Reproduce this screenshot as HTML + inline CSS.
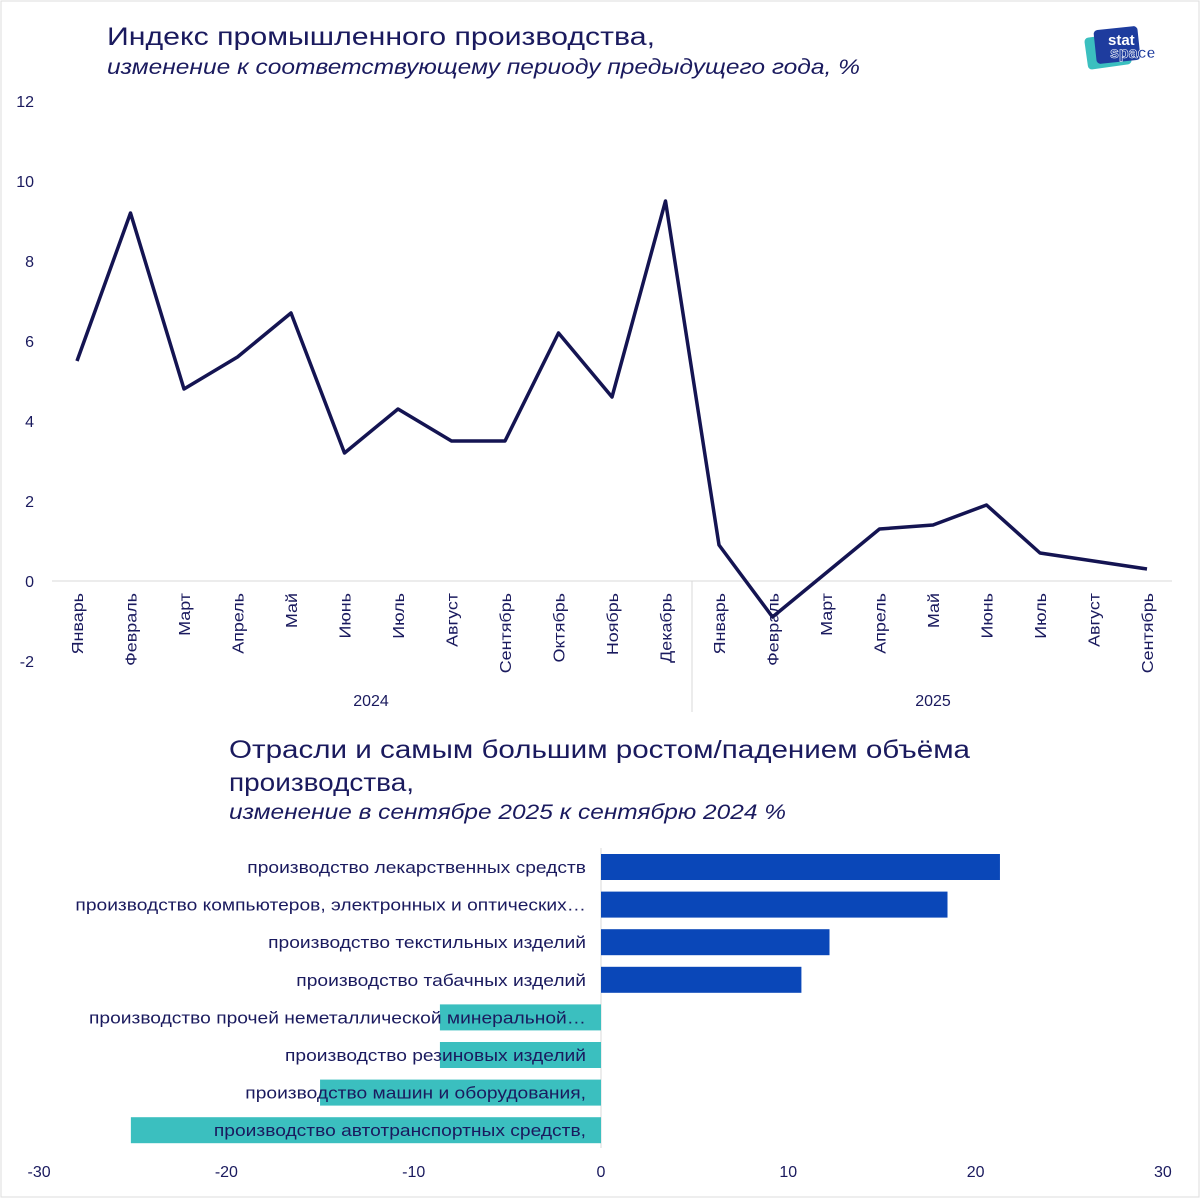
<!DOCTYPE html>
<html><head><meta charset="utf-8">
<style>
body{margin:0;background:#fff;font-family:"Liberation Sans","DejaVu Sans",sans-serif;}
#wrap{position:relative;width:1200px;height:1198px;overflow:hidden;background:#fff;}
svg{position:absolute;left:0;top:0;}
</style></head>
<body>
<div id="wrap">
<svg id="svg" width="1200" height="1198">
  <rect x="1" y="1" width="1198" height="1196" fill="none" stroke="#ddd"/>
  <text x="107" y="45" font-size="25" fill="#1a1a5e" textLength="548" lengthAdjust="spacingAndGlyphs">Индекс промышленного производства,</text>
  <text x="107" y="74" font-size="21" font-style="italic" fill="#1a1a5e" textLength="753" lengthAdjust="spacingAndGlyphs">изменение к соответствующему периоду предыдущего года, %</text>
  <g>
    <rect x="1086" y="35" width="44" height="32" rx="4" fill="#3bbfbf" transform="rotate(-8 1108 51)"/>
    <rect x="1095" y="28" width="44" height="34" rx="4" fill="#1e3c9e" transform="rotate(-6 1117 45)"/>
    <text x="1108" y="45" font-size="15" font-weight="bold" fill="#fff">stat</text>
    <text x="1110" y="58" font-size="16" font-weight="bold" fill="#1e3c9e" stroke="#fff" stroke-width="0.6">space</text>
  </g>
  <text x="229" y="758" font-size="25" fill="#1a1a5e" textLength="741" lengthAdjust="spacingAndGlyphs">Отрасли и самым большим ростом/падением объёма</text>
  <text x="229" y="791" font-size="25" fill="#1a1a5e" textLength="185" lengthAdjust="spacingAndGlyphs">производства,</text>
  <text x="229" y="819" font-size="21" font-style="italic" fill="#1a1a5e" textLength="557" lengthAdjust="spacingAndGlyphs">изменение в сентябре 2025 к сентябрю 2024 %</text>
  <g id="topchart"></g>
  <g id="botchart"></g>
</svg>
</div>
<script>
const months = ["Январь","Февраль","Март","Апрель","Май","Июнь","Июль","Август","Сентябрь","Октябрь","Ноябрь","Декабрь","Январь","Февраль","Март","Апрель","Май","Июнь","Июль","Август","Сентябрь"];
const indexValues = [5.5,9.2,4.8,5.6,6.7,3.2,4.3,3.5,3.5,6.2,4.6,9.5,0.9,-0.9,0.2,1.3,1.4,1.9,0.7,0.5,0.3];
const yTicks = [-2,0,2,4,6,8,10,12];
const years = ["2024","2025"];
const industries = ["производство лекарственных средств","производство компьютеров, электронных и оптических…","производство текстильных изделий","производство табачных изделий","производство прочей  неметаллической минеральной…","производство резиновых изделий","производство машин и оборудования,","производство автотранспортных средств,"];
const changes = [21.3,18.5,12.2,10.7,-8.6,-8.6,-15.0,-25.1];
const xTicks = [-30,-20,-10,0,10,20,30];

const NS="http://www.w3.org/2000/svg";
function mk(parent,tag,attrs,text){const e=document.createElementNS(NS,tag);for(const k in attrs)e.setAttribute(k,attrs[k]);if(text!==undefined)e.textContent=text;parent.appendChild(e);return e;}
function widen(e,f){try{const w=e.getComputedTextLength();e.setAttribute('textLength',w*f);e.setAttribute('lengthAdjust','spacingAndGlyphs');}catch(err){}}
const navy="#1a1a5e";
const tg=document.getElementById('topchart');
const yS=v=>581-v*40;
const xS=i=>77+i*53.5;
yTicks.forEach(t=>{const e=mk(tg,'text',{x:34,y:yS(t)+6,'font-size':16,fill:navy,'text-anchor':'end'},String(t));

});
const ax=mk(tg,'line',{x1:52,x2:1172,y1:yS(0),y2:yS(0),stroke:'#d9d9d9'});


const sep=mk(tg,'line',{x1:692,x2:692,y1:yS(0),y2:712,stroke:'#d9d9d9'});


months.forEach((m,i)=>{const e=mk(tg,'text',{x:0,y:0,'font-size':16,fill:navy,'text-anchor':'end',transform:`translate(${xS(i)+6},${593}) rotate(-90)`},m);


widen(e,1.12);});
[371,933].forEach((p,i)=>{const e=mk(tg,'text',{x:p,y:706,'font-size':16,fill:navy,'text-anchor':'middle'},years[i]);

});
const line=mk(tg,'polyline',{points:indexValues.map((v,i)=>xS(i)+','+yS(v)).join(' '),fill:'none',stroke:'#141452','stroke-width':3.5,'stroke-linejoin':'round'});


const bg=document.getElementById('botchart');
const bx=v=>601+v*18.73;
const ry=i=>867+i*37.6;
const zl=mk(bg,'line',{x1:bx(0),x2:bx(0),y1:848,y2:1148,stroke:'#d9d9d9'});


changes.forEach((v,i)=>{const x0=Math.min(bx(0),bx(v)),w=Math.abs(bx(v)-bx(0));
const r=mk(bg,'rect',{x:x0,y:ry(i)-13,width:w,height:26,fill:v>=0?'#0a47b8':'#3bbfbf'});

});
industries.forEach((s,i)=>{const e=mk(bg,'text',{x:586,y:ry(i)+6,'font-size':17,fill:navy,'text-anchor':'end'},s);


widen(e,1.13);});
xTicks.forEach(t=>{const e=mk(bg,'text',{x:bx(t),y:1177,'font-size':16,fill:navy,'text-anchor':'middle'},String(t));

});
</script>
</body></html>
